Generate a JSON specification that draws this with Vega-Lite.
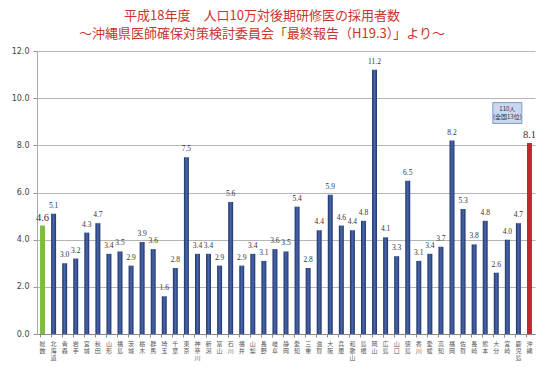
{
  "$schema": "https://vega.github.io/schema/vega-lite/v6.json",
  "width": 498,
  "height": 283,
  "autosize": {"type": "none"},
  "padding": {"left": 37, "top": 51, "right": 15, "bottom": 33},
  "background": "white",
  "title": {
    "text": ["平成18年度　人口10万対後期研修医の採用者数", "～沖縄県医師確保対策検討委員会「最終報告（H19.3）」より～"],
    "font": "Noto Sans CJK JP",
    "fontSize": 13,
    "fontWeight": "normal",
    "color": "#c8352e",
    "anchor": "middle",
    "dx": -24,
    "offset": 6,
    "lineHeight": 18
  },
  "config": {
    "view": {"stroke": null},
    "axis": {"labelFont": "DejaVu Sans", "labelColor": "#444"}
  },
  "data": {
    "values": [
      {"pref": "総数", "value": 4.6, "kind": "total"},
      {"pref": "北海道", "value": 5.1, "kind": "pref"},
      {"pref": "青森", "value": 3.0, "kind": "pref"},
      {"pref": "岩手", "value": 3.2, "kind": "pref"},
      {"pref": "宮城", "value": 4.3, "kind": "pref"},
      {"pref": "秋田", "value": 4.7, "kind": "pref"},
      {"pref": "山形", "value": 3.4, "kind": "pref"},
      {"pref": "福島", "value": 3.5, "kind": "pref"},
      {"pref": "茨城", "value": 2.9, "kind": "pref"},
      {"pref": "栃木", "value": 3.9, "kind": "pref"},
      {"pref": "群馬", "value": 3.6, "kind": "pref"},
      {"pref": "埼玉", "value": 1.6, "kind": "pref"},
      {"pref": "千葉", "value": 2.8, "kind": "pref"},
      {"pref": "東京", "value": 7.5, "kind": "pref"},
      {"pref": "神奈川", "value": 3.4, "kind": "pref"},
      {"pref": "新潟", "value": 3.4, "kind": "pref"},
      {"pref": "富山", "value": 2.9, "kind": "pref"},
      {"pref": "石川", "value": 5.6, "kind": "pref"},
      {"pref": "福井", "value": 2.9, "kind": "pref"},
      {"pref": "山梨", "value": 3.4, "kind": "pref"},
      {"pref": "長野", "value": 3.1, "kind": "pref"},
      {"pref": "岐阜", "value": 3.6, "kind": "pref"},
      {"pref": "静岡", "value": 3.5, "kind": "pref"},
      {"pref": "愛知", "value": 5.4, "kind": "pref"},
      {"pref": "三重", "value": 2.8, "kind": "pref"},
      {"pref": "滋賀", "value": 4.4, "kind": "pref"},
      {"pref": "大阪", "value": 5.9, "kind": "pref"},
      {"pref": "兵庫", "value": 4.6, "kind": "pref"},
      {"pref": "和歌山", "value": 4.4, "kind": "pref"},
      {"pref": "島根", "value": 4.8, "kind": "pref"},
      {"pref": "岡山", "value": 11.2, "kind": "pref"},
      {"pref": "広島", "value": 4.1, "kind": "pref"},
      {"pref": "山口", "value": 3.3, "kind": "pref"},
      {"pref": "徳島", "value": 6.5, "kind": "pref"},
      {"pref": "香川", "value": 3.1, "kind": "pref"},
      {"pref": "愛媛", "value": 3.4, "kind": "pref"},
      {"pref": "高知", "value": 3.7, "kind": "pref"},
      {"pref": "福岡", "value": 8.2, "kind": "pref"},
      {"pref": "佐賀", "value": 5.3, "kind": "pref"},
      {"pref": "長崎", "value": 3.8, "kind": "pref"},
      {"pref": "熊本", "value": 4.8, "kind": "pref"},
      {"pref": "大分", "value": 2.6, "kind": "pref"},
      {"pref": "宮崎", "value": 4.0, "kind": "pref"},
      {"pref": "鹿児島", "value": 4.7, "kind": "pref"},
      {"pref": "沖縄", "value": 8.1, "kind": "okinawa"}
    ]
  },
  "encoding": {
    "x": {
      "field": "pref",
      "type": "nominal",
      "sort": ["総数", "北海道", "青森", "岩手", "宮城", "秋田", "山形", "福島", "茨城", "栃木", "群馬", "埼玉", "千葉", "東京", "神奈川", "新潟", "富山", "石川", "福井", "山梨", "長野", "岐阜", "静岡", "愛知", "三重", "滋賀", "大阪", "兵庫", "和歌山", "島根", "岡山", "広島", "山口", "徳島", "香川", "愛媛", "高知", "福岡", "佐賀", "長崎", "熊本", "大分", "宮崎", "鹿児島", "沖縄"],
      "scale": {"paddingInner": 0.55, "paddingOuter": 0.275},
      "axis": {
        "title": null,
        "labelAngle": 0,
        "labelExpr": "split(datum.label, '')",
        "labelFont": "Noto Sans CJK JP",
        "labelFontSize": 6,
        "labelLineHeight": 7,
        "labelColor": "#555",
        "labelPadding": 3,
        "bandPosition": 0,
        "tickSize": 3,
        "tickColor": "#888",
        "domainColor": "#888",
        "labelOverlap": false
      }
    },
    "y": {
      "field": "value",
      "type": "quantitative",
      "scale": {"domain": [0, 12]},
      "axis": {
        "title": null,
        "values": [0, 2, 4, 6, 8, 10, 12],
        "format": ".1f",
        "labelFontSize": 8,
        "labelPadding": 4,
        "tickSize": 4,
        "tickColor": "#999",
        "domainColor": "#aaa",
        "gridColor": "#b5b5b5",
        "gridWidth": 1.2
      }
    }
  },
  "layer": [
    {
      "transform": [{"filter": "datum.kind === 'pref'"}],
      "mark": {
        "type": "bar",
        "color": {
          "gradient": "linear", "x1": 0, "x2": 1, "y1": 0, "y2": 0,
          "stops": [
            {"offset": 0, "color": "#1e3468"},
            {"offset": 0.5, "color": "#4a67ad"},
            {"offset": 1, "color": "#1e3468"}
          ]
        }
      }
    },
    {
      "transform": [{"filter": "datum.kind === 'total'"}],
      "mark": {"type": "bar", "color": "#7cbb45"}
    },
    {
      "transform": [{"filter": "datum.kind === 'okinawa'"}],
      "mark": {"type": "bar", "color": "#c1272d"}
    },
    {
      "transform": [{"filter": "datum.kind === 'pref'"}],
      "mark": {"type": "text", "font": "Liberation Serif", "fontSize": 7.5, "color": "#333", "baseline": "bottom", "dy": -4},
      "encoding": {"text": {"field": "value", "type": "quantitative", "format": ".1f"}}
    },
    {
      "transform": [{"filter": "datum.kind !== 'pref'"}],
      "mark": {"type": "text", "font": "Liberation Serif", "fontSize": 10.5, "color": "#333", "baseline": "bottom", "dy": -3},
      "encoding": {"text": {"field": "value", "type": "quantitative", "format": ".1f"}}
    },
    {
      "data": {"values": [{"pref": "宮崎", "value": 9.37}]},
      "mark": {
        "type": "point",
        "filled": true,
        "shape": "M-1,-0.72L1,-0.72L1,0.72L-1,0.72Z",
        "size": 841,
        "fill": "#c9d7ef",
        "stroke": "#7f98c8",
        "strokeWidth": 1,
        "opacity": 1
      }
    },
    {
      "data": {"values": [{"pref": "宮崎", "value": 9.37, "t": ["110人", "(全国13位)"]}]},
      "mark": {"type": "text", "font": "Noto Sans CJK JP", "fontSize": 6, "color": "#333", "lineHeight": 8, "baseline": "middle", "dy": -4},
      "encoding": {"text": {"field": "t"}}
    }
  ]
}
